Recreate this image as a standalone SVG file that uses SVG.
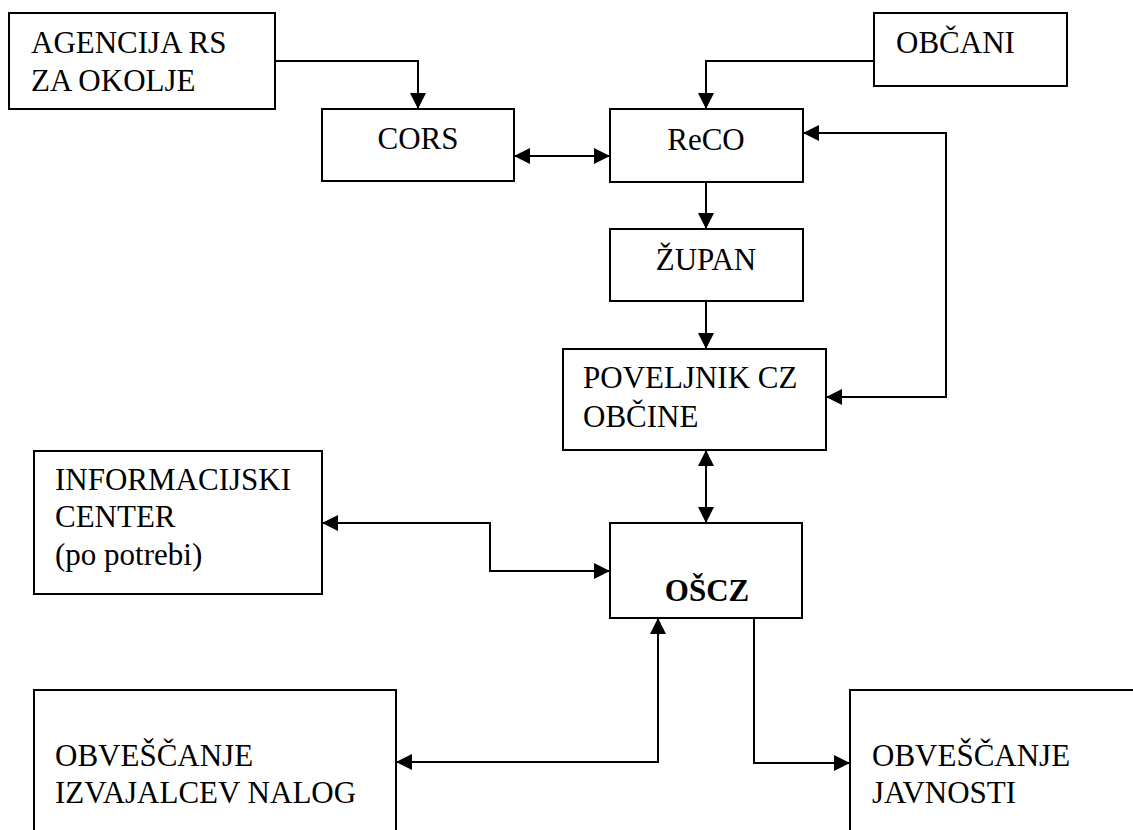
<svg xmlns="http://www.w3.org/2000/svg" width="1133" height="830" viewBox="0 0 1133 830">
<style>
.box{fill:#fff;stroke:#000;stroke-width:2}
.t{font-family:Liberation Serif,serif;font-size:31px;fill:#000}
.b{font-weight:bold}
.c{fill:none;stroke:#000;stroke-width:2}
</style>
<defs>
<marker id="ah" markerUnits="userSpaceOnUse" markerWidth="17" markerHeight="17" refX="16" refY="8" orient="auto-start-reverse" viewBox="0 0 17 16">
<path d="M0,0 L16,8 L0,16 z" fill="#000"/>
</marker>
</defs>
<rect width="1133" height="830" fill="#fff"/>
<g id="connectors">
<path class="c" d="M275,61 H418 V109" marker-end="url(#ah)"/>
<path class="c" d="M514,156 H610" marker-start="url(#ah)" marker-end="url(#ah)"/>
<path class="c" d="M874,61 H706 V109" marker-end="url(#ah)"/>
<path class="c" d="M706,182 V229" marker-end="url(#ah)"/>
<path class="c" d="M706,301 V349" marker-end="url(#ah)"/>
<path class="c" d="M803,133 H946 V397 H826" marker-start="url(#ah)" marker-end="url(#ah)"/>
<path class="c" d="M706,450 V523" marker-start="url(#ah)" marker-end="url(#ah)"/>
<path class="c" d="M322,523 H490 V571 H610" marker-start="url(#ah)" marker-end="url(#ah)"/>
<path class="c" d="M396,762 H658 V618" marker-start="url(#ah)" marker-end="url(#ah)"/>
<path class="c" d="M754,618 V763 H850" marker-end="url(#ah)"/>
</g>
<g id="agencija">
<rect class="box" x="9" y="13" width="266" height="96"/>
<text class="t" font-family="Liberation Serif" x="31" y="53">AGENCIJA RS</text>
<text class="t" x="31" y="91">ZA OKOLJE</text>
</g>
<g id="obcani">
<rect class="box" x="874" y="13" width="193" height="73"/>
<text class="t" x="896" y="53">OBČANI</text>
</g>
<g id="cors">
<rect class="box" x="322" y="109" width="192" height="72"/>
<text class="t" x="418" y="149" text-anchor="middle">CORS</text>
</g>
<g id="reco">
<rect class="box" x="610" y="109" width="193" height="73"/>
<text class="t" x="706" y="150" text-anchor="middle">ReCO</text>
</g>
<g id="zupan">
<rect class="box" x="610" y="229" width="193" height="72"/>
<text class="t" x="706" y="270" text-anchor="middle">ŽUPAN</text>
</g>
<g id="poveljnik">
<rect class="box" x="563" y="349" width="263" height="101"/>
<text class="t" x="583" y="388">POVELJNIK CZ</text>
<text class="t" x="583" y="427">OBČINE</text>
</g>
<g id="informacijski">
<rect class="box" x="34" y="451" width="288" height="143"/>
<text class="t" x="55" y="490">INFORMACIJSKI</text>
<text class="t" x="55" y="527">CENTER</text>
<text class="t" x="55" y="565">(po potrebi)</text>
</g>
<g id="oscz">
<rect class="box" x="610" y="523" width="192" height="95"/>
<text class="t b" x="707" y="601" text-anchor="middle">OŠCZ</text>
</g>
<g id="izvajalci">
<rect class="box" x="34" y="690" width="362" height="200"/>
<text class="t" x="55" y="766">OBVEŠČANJE</text>
<text class="t" x="55" y="803">IZVAJALCEV NALOG</text>
</g>
<g id="javnost">
<rect class="box" x="850" y="690" width="400" height="200"/>
<text class="t" x="872" y="766">OBVEŠČANJE</text>
<text class="t" x="872" y="803">JAVNOSTI</text>
</g>
</svg>
